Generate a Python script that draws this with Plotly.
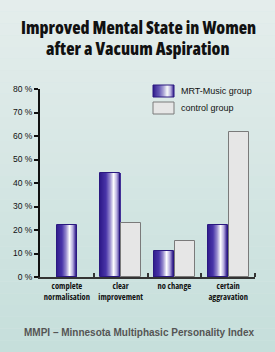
import plotly.graph_objects as go

categories = ["complete<br>normalisation", "clear<br>improvement", "no change", "certain<br>aggravation"]
mrt_values = [22.3, 44.3, 11.0, 22.3]
control_values = [None, 23.0, 15.5, 61.5]
y_ticks = [0, 10, 20, 30, 40, 50, 60, 70, 80]
y_labels = [f"{v} %" for v in y_ticks]
series_names = ["MRT-Music group", "control group"]

W, H = 275, 352
L, R, T, B = 40, 20, 89, 75
BAR_W = 0.372
GAP = 0.019
N_SLICES = 20

stops = [(0.0, (46, 26, 138)), (0.3, (72, 52, 168)), (0.5, (150, 138, 206)),
         (0.68, (255, 255, 255)), (0.84, (180, 170, 222)), (1.0, (46, 26, 138))]


def grad(t):
    for (a, ca), (b, cb) in zip(stops[:-1], stops[1:]):
        if a <= t <= b:
            f = (t - a) / (b - a)
            c = [round(ca[k] + (cb[k] - ca[k]) * f) for k in range(3)]
            return f"rgb({c[0]},{c[1]},{c[2]})"
    return "rgb(46,26,138)"


def cond(s, weight=800):
    return f'<span style="font-stretch:condensed;font-weight:{weight}">{s}</span>'


xs = list(range(len(categories)))
mrt_start = [(-BAR_W / 2 if control_values[i] is None else -BAR_W - GAP / 2) for i in xs]
ctl_start = [GAP / 2 for i in xs]

fig = go.Figure()
sw = BAR_W / N_SLICES
for s in range(N_SLICES):
    col = grad((s + 0.5) / N_SLICES)
    fig.add_trace(go.Bar(x=xs, y=mrt_values, width=[sw * 1.05] * len(xs),
                         offset=[o + s * sw for o in mrt_start],
                         marker=dict(color=col, line=dict(width=0)),
                         showlegend=False, hoverinfo="skip"))
fig.add_trace(go.Bar(x=xs, y=mrt_values, width=[BAR_W] * len(xs), offset=mrt_start,
                     marker=dict(color="rgba(0,0,0,0)", line=dict(color="#2a1880", width=1)),
                     name=series_names[0], showlegend=False))
fig.add_trace(go.Bar(x=xs, y=control_values, width=[BAR_W] * len(xs), offset=ctl_start,
                     marker=dict(color="#e6e6e6", line=dict(color="#7a7a7a", width=1)),
                     name=series_names[1], showlegend=False))


def px(x):
    return (x - L) / (W - L - R)


def py(y):
    return (H - B - y) / (H - T - B)


shapes = []
nb = 30
for i in range(nb):
    t = i / (nb - 1)
    c0 = (228, 237, 236)
    c1 = (198, 223, 219)
    c = [round(c0[k] + (c1[k] - c0[k]) * t) for k in range(3)]
    shapes.append(dict(type="rect", xref="paper", yref="paper", layer="below",
                       x0=px(0), x1=px(W), y0=py(H * (i + 1) / nb), y1=py(H * i / nb),
                       fillcolor=f"rgb({c[0]},{c[1]},{c[2]})", line=dict(width=0)))

sx0, sx1 = 153, 174
y1a, y1b = 85, 97
y2a, y2b = 102, 114
for s in range(N_SLICES):
    col = grad((s + 0.5) / N_SLICES)
    a = sx0 + (sx1 - sx0) * s / N_SLICES
    b = sx0 + (sx1 - sx0) * (s + 1.05) / N_SLICES
    shapes.append(dict(type="rect", xref="paper", yref="paper", x0=px(a), x1=px(b),
                       y0=py(y1b), y1=py(y1a), fillcolor=col, line=dict(width=0)))
shapes.append(dict(type="rect", xref="paper", yref="paper", x0=px(sx0), x1=px(sx1),
                   y0=py(y1b), y1=py(y1a), line=dict(color="#2a1880", width=1)))
shapes.append(dict(type="rect", xref="paper", yref="paper", x0=px(sx0), x1=px(sx1),
                   y0=py(y2b), y1=py(y2a), fillcolor="#e6e6e6", line=dict(color="#7a7a7a", width=1)))

COND = "Open Sans, sans-serif"
title_font = dict(family=COND, size=17.2, color="#111")
legend_font = dict(family="Liberation Sans, Arial, sans-serif", size=9, color="#111")
annotations = [
    dict(text=cond("Improved Mental State in Women"), x=px(138), y=py(28), xref="paper", yref="paper",
         showarrow=False, font=title_font, xanchor="center", yanchor="middle"),
    dict(text=cond("after a Vacuum Aspiration"), x=px(138), y=py(49), xref="paper", yref="paper",
         showarrow=False, font=title_font, xanchor="center", yanchor="middle"),
    dict(text=series_names[0], x=px(179), y=py(91), xref="paper", yref="paper", showarrow=False,
         font=legend_font, xanchor="left", yanchor="middle"),
    dict(text=series_names[1], x=px(179), y=py(108), xref="paper", yref="paper", showarrow=False,
         font=legend_font, xanchor="left", yanchor="middle"),
    dict(text="<b>MMPI – Minnesota Multiphasic Personality Index</b>", x=px(139), y=py(332),
         xref="paper", yref="paper", showarrow=False,
         font=dict(family="Liberation Sans, Arial, sans-serif", size=10, color="#555"),
         xanchor="center", yanchor="middle"),
]

fig.update_layout(
    width=W, height=H,
    margin=dict(l=L, r=R, t=T, b=B, pad=0),
    paper_bgcolor="#d8e7e5", plot_bgcolor="rgba(0,0,0,0)",
    barmode="overlay", bargap=0,
    shapes=shapes, annotations=annotations,
    xaxis=dict(range=[-0.5, 3.5], tickvals=xs,
               ticktext=["<br>".join(cond(p, 700) for p in c.split("<br>")) for c in categories],
               tickangle=0, ticks="", showgrid=False, zeroline=False, showline=True,
               linecolor="#333", linewidth=1.5,
               tickfont=dict(family=COND, size=8.5, color="#111"),
               minor=dict(tickvals=[0.5, 1.5, 2.5, 3.5], ticks="inside", ticklen=4,
                          tickcolor="#333", tickwidth=1.5),
               fixedrange=True),
    yaxis=dict(range=[0, 80], tickvals=y_ticks, ticktext=y_labels, ticks="outside", ticklen=4,
               tickcolor="#111", tickwidth=1.5, showgrid=False, zeroline=False, showline=True,
               linecolor="#111", linewidth=2,
               tickfont=dict(family="Liberation Sans, Arial, sans-serif", size=8.5, color="#111"),
               fixedrange=True),
)

fig.write_html("out.html", config={"displayModeBar": False})
